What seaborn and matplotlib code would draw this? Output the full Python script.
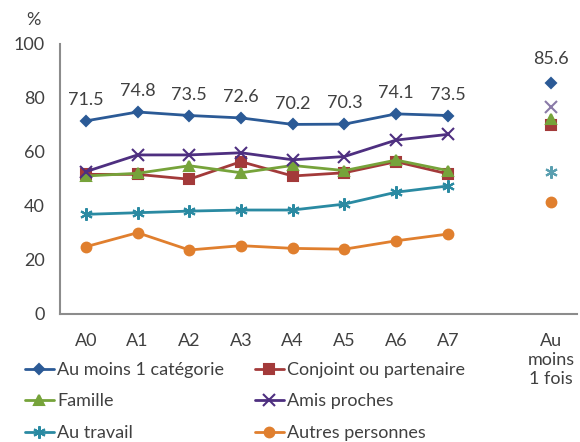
import numpy as np
import pandas as pd
import seaborn as sns
import matplotlib.pyplot as plt

periods = ["A0", "A1", "A2", "A3", "A4", "A5", "A6", "A7"]
summary_label = "Au\nmoins\n1 fois"

names = ["Au moins 1 catégorie", "Conjoint ou partenaire", "Famille",
         "Amis proches", "Au travail", "Autres personnes"]
au_moins_1 = [71.5, 74.8, 73.5, 72.6, 70.2, 70.3, 74.1, 73.5]
conjoint = [51.7, 51.7, 49.9, 56.4, 51.1, 52.3, 56.4, 51.9]
famille = [51.1, 52.1, 54.9, 52.3, 55.0, 53.1, 57.0, 53.1]
amis = [52.7, 58.9, 58.9, 59.7, 57.1, 58.3, 64.4, 66.5]
travail = [36.9, 37.5, 38.1, 38.5, 38.5, 40.7, 45.1, 47.4]
autres = [24.9, 30.1, 23.7, 25.3, 24.3, 24.0, 27.1, 29.6]
summary = [85.6, 70.0, 72.1, 76.5, 52.7, 41.4]

colors = ["#2b5a96", "#a33a3a", "#76a33a", "#4e2f80", "#2a8aa2", "#e07f2e"]
summary_colors = ["#2b5a96", "#a33a3a", "#76a33a", "#8a7aa8", "#5a9fb0", "#e07f2e"]
markers = ["D", "s", "^", "x", (6, 2, 0), "o"]
sizes = [5.5, 6.5, 7, 8, 9, 7]

series = [au_moins_1, conjoint, famille, amis, travail, autres]
x = np.arange(len(periods))
summary_x = len(periods) + 1

sns.set_style("white")
plt.rcParams["font.family"] = ["Lato", "DejaVu Sans"]

fig = plt.figure(figsize=(5.8, 4.42), dpi=100)
ax = fig.add_axes([0.1034, 0.2896, 0.8916, 0.611])

for name, vals, c, m, s in zip(names, series, colors, markers, sizes):
    df = pd.DataFrame({"x": x, "y": vals})
    sns.lineplot(data=df, x="x", y="y", ax=ax, color=c, marker=m,
                 markersize=s, markeredgecolor=c, markeredgewidth=1.5,
                 linewidth=2, label=name)

for vals, c, m, s in zip(summary, summary_colors, markers, sizes):
    ax.plot([summary_x], [vals], linestyle="none", marker=m, color=c,
            markersize=s, markeredgecolor=c, markeredgewidth=1.5)

for xi, v in zip(x, au_moins_1):
    ax.annotate(f"{v}", (xi, v), xytext=(0, 15), textcoords="offset points",
                ha="center", va="center", fontsize=13, color="#404040")
ax.annotate(f"{summary[0]}", (summary_x, summary[0]), xytext=(0, 17),
            textcoords="offset points", ha="center", va="center",
            fontsize=13, color="#404040")

ax.set_xlim(-0.5, 9.5)
ax.set_ylim(0, 100)
ax.set_yticks([0, 20, 40, 60, 80, 100])
ax.set_xticks(list(x) + [summary_x])
ax.set_xticklabels(periods + [summary_label])
ax.set_xlabel("")
ax.set_ylabel("")
for side in ["top", "right"]:
    ax.spines[side].set_visible(False)
for side in ["left", "bottom"]:
    ax.spines[side].set_color("#8c8c8c")
    ax.spines[side].set_linewidth(1.5)
ax.tick_params(axis="y", length=5, width=1.5, color="#8c8c8c", labelsize=13,
               labelcolor="#404040", pad=6)
ax.tick_params(axis="x", length=0, labelsize=13, labelcolor="#404040", pad=14)

fig.text(0.057, 0.955, "%", fontsize=13, color="#404040", ha="center", va="center")

h, l = ax.get_legend_handles_labels()
order = [0, 2, 4, 1, 3, 5]
ax.legend([h[i] for i in order], [l[i] for i in order], ncol=2,
          loc="upper left", bbox_to_anchor=(0.03, 0.197),
          bbox_transform=fig.transFigure, frameon=False, fontsize=13,
          handlelength=1.6, handletextpad=0.2, columnspacing=1.7,
          labelspacing=0.85, borderaxespad=0, labelcolor="#404040")

fig.savefig("out.png", dpi=100)
